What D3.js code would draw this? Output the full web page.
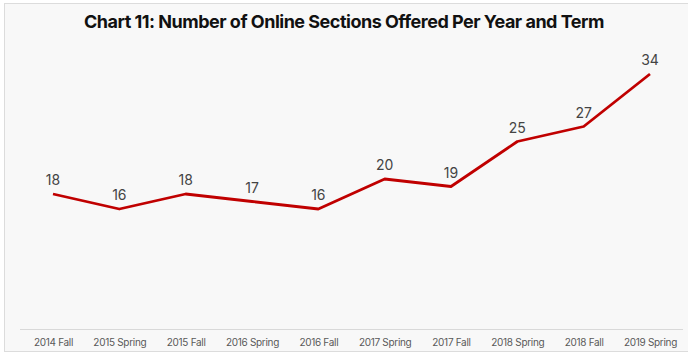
<!DOCTYPE html>
<html>
<head>
<meta charset="utf-8">
<script src="https://cdn.jsdelivr.net/npm/d3@7"></script>
<style>
  html, body { margin: 0; padding: 0; background: #ffffff; }
  svg { display: block; }
</style>
</head>
<body>
<script>
// Online sections offered per year and term
const terms = ["2014 Fall", "2015 Spring", "2015 Fall", "2016 Spring", "2016 Fall",
               "2017 Spring", "2017 Fall", "2018 Spring", "2018 Fall", "2019 Spring"];
const sections = [18, 16, 18, 17, 16, 20, 19, 25, 27, 34];
const chartTitle = "Chart 11: Number of Online Sections Offered Per Year and Term";

const W = 688, H = 354;
const svg = d3.select("body").append("svg").attr("width", W).attr("height", H);

// panel
svg.append("rect").attr("x", 4.5).attr("y", 3.5).attr("width", W + 10).attr("height", 348)
  .attr("fill", "#f8f8f8").attr("stroke", "#dcdcdc").attr("stroke-width", 1);

const x = d3.scalePoint().domain(terms).range([53, 650]);
const y = d3.scaleLinear().domain([0, 34]).range([329, 74]);

// baseline axis
const xAxis = d3.axisBottom(x).tickSize(0).tickPadding(10);
const gx = svg.append("g").attr("transform", `translate(0,${y(0)})`).call(xAxis);
gx.select(".domain").attr("d", `M20,0.5H683`).attr("stroke", "#d9d9d9").attr("stroke-width", 1);
gx.selectAll("text")
  .attr("font-family", "Inter, 'Noto Sans', sans-serif")
  .attr("font-size", 10).attr("fill", "#595959").attr("letter-spacing", -0.3);

svg.append("text").attr("x", 344).attr("y", 28).attr("text-anchor", "middle")
  .attr("font-family", "Inter, 'Liberation Sans', sans-serif").attr("font-weight", 700)
  .attr("font-size", 18).attr("fill", "#111").attr("letter-spacing", -0.5)
  .text(chartTitle);

const line = d3.line().x((d, i) => x(terms[i])).y(d => y(d));
svg.append("path").datum(sections).attr("d", line)
  .attr("fill", "none").attr("stroke", "#c00000").attr("stroke-width", 2.8)
  .attr("stroke-linejoin", "round");

svg.append("g").selectAll("text").data(sections).join("text")
  .attr("x", (d, i) => x(terms[i])).attr("y", d => y(d) - 9)
  .attr("text-anchor", "middle")
  .attr("font-family", "Inter, 'Noto Sans', sans-serif").attr("font-size", 14)
  .attr("fill", "#444444")
  .text(d => d);
</script>
</body>
</html>
